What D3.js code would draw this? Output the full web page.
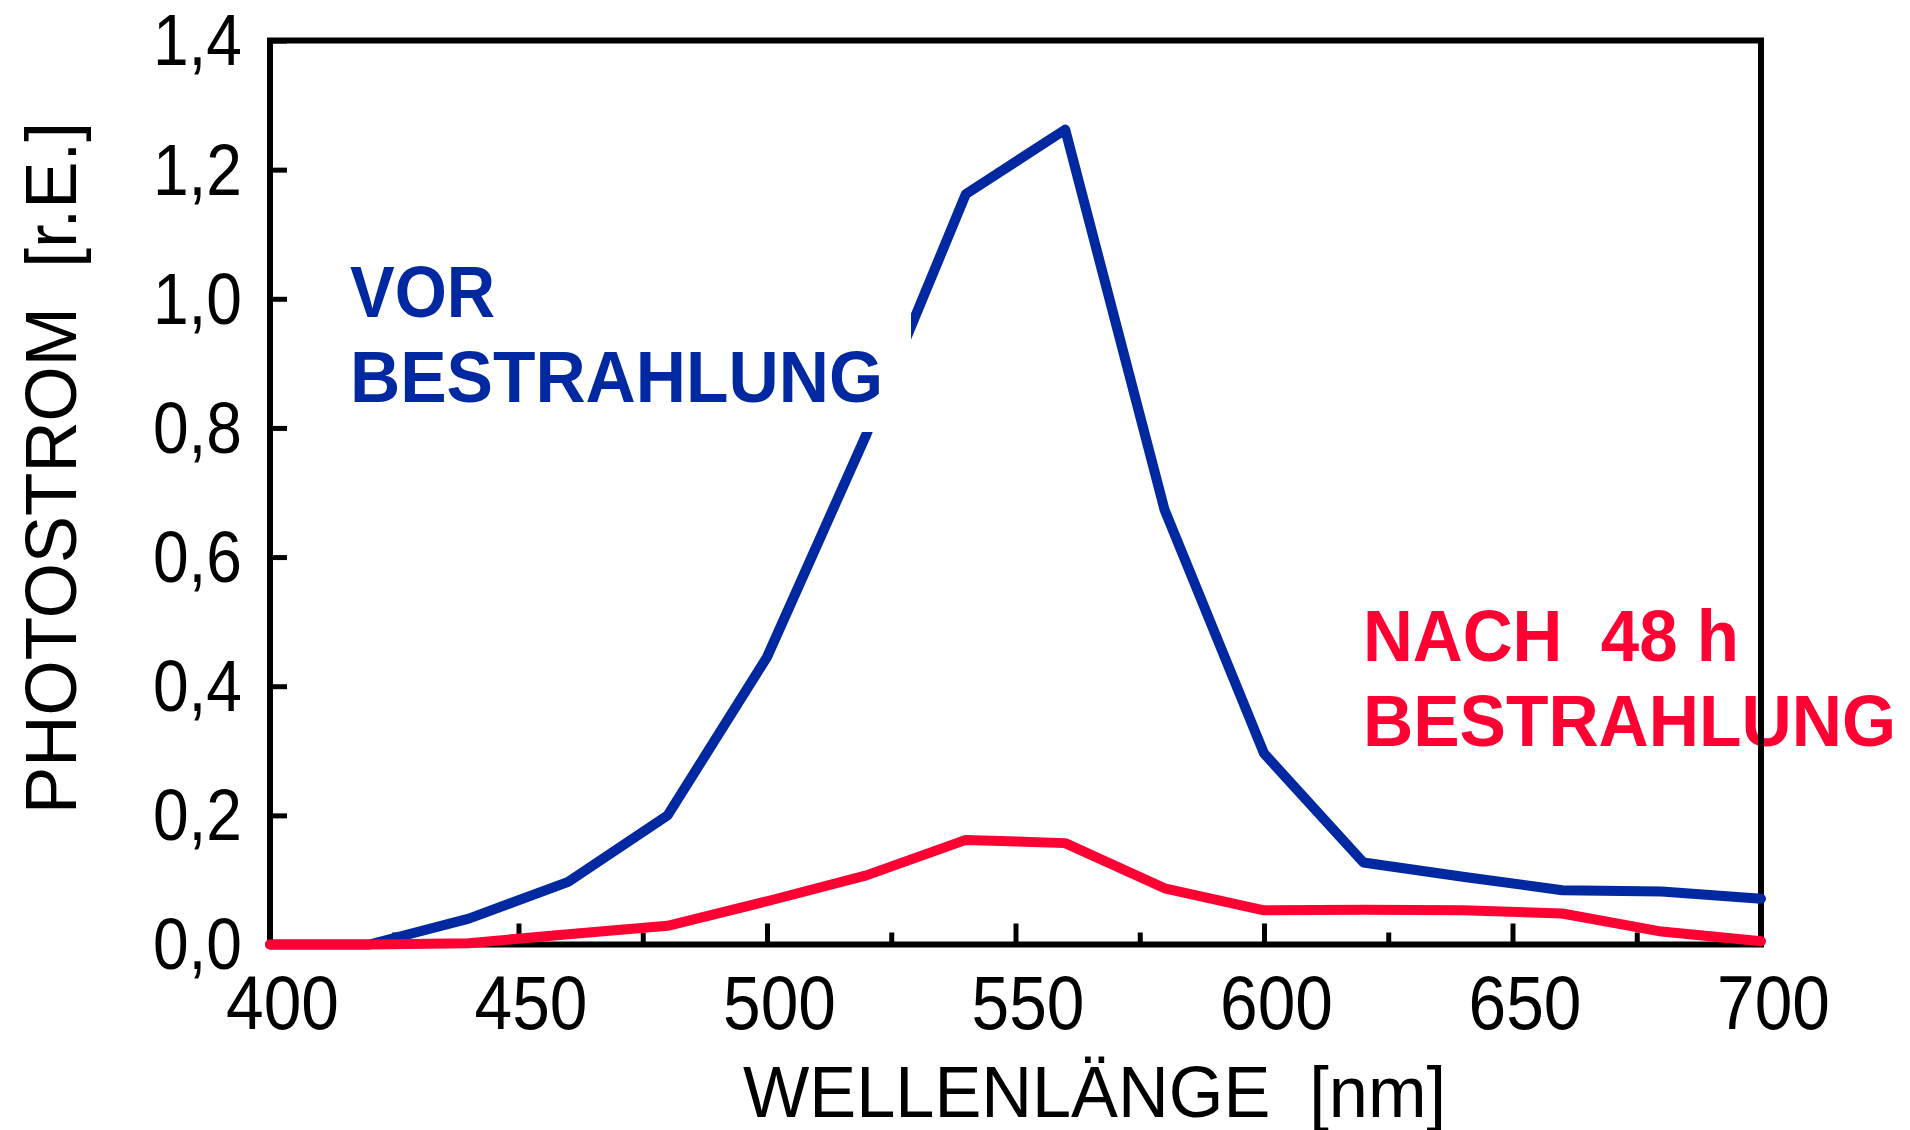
<!DOCTYPE html>
<html>
<head>
<meta charset="utf-8">
<script src="https://cdn.jsdelivr.net/npm/d3@7"></script>
<style>
  html, body { margin: 0; padding: 0; background: #fff; }
  svg { display: block; }
  text { font-family: "Liberation Sans", Arial, Helvetica, sans-serif; }
</style>
</head>
<body>
<svg id="chart" width="1910" height="1130"></svg>
<script>
// Wavelength grid (nm)
const wavelengths = [400, 420, 440, 460, 480, 500, 520, 540, 560, 580, 600, 620, 640, 660, 680, 700];
// Photocurrent before irradiation (relative units)
const vorBestrahlung = [0, 0, 0.04, 0.097, 0.20, 0.445, 0.79, 1.162, 1.262, 0.673, 0.296, 0.127, 0.105, 0.084, 0.082, 0.071];
// Photocurrent after 48 h irradiation (relative units)
const nach48h = [0, 0, 0.002, 0.016, 0.029, 0.067, 0.107, 0.162, 0.157, 0.087, 0.053, 0.054, 0.053, 0.048, 0.02, 0.005];

// Axis ticks and labels
const xMajorTicks = [400, 450, 500, 550, 600, 650, 700];
const xMinorTicks = [425, 475, 525, 575, 625, 675];
const yTicks = [0, 0.2, 0.4, 0.6, 0.8, 1.0, 1.2, 1.4];
const yTickLabels = ["0,0", "0,2", "0,4", "0,6", "0,8", "1,0", "1,2", "1,4"];

const BLUE = "#0028a0";
const RED = "#ff0033";

const svg = d3.select("#chart");
svg.append("rect").attr("width", 1910).attr("height", 1130).attr("fill", "#fff");

const plot = { left: 270, right: 1761, top: 40.5, bottom: 944.5 };

const x = d3.scaleLinear().domain([400, 700]).range([plot.left, plot.right]);
const y = d3.scaleLinear().domain([0, 1.4]).range([plot.bottom, plot.top]);

// Red annotation sits under the frame (frame line crosses it)
const redLabel = svg.append("g").attr("fill", RED).attr("font-weight", "bold").attr("font-size", 72);
redLabel.append("text").attr("x", 1363).attr("y", 661)
  .style("white-space", "pre")
  .attr("textLength", 376).attr("lengthAdjust", "spacingAndGlyphs")
  .text("NACH  48 h");
redLabel.append("text").attr("x", 1363).attr("y", 746)
  .attr("textLength", 533).attr("lengthAdjust", "spacingAndGlyphs")
  .text("BESTRAHLUNG");

// Frame
svg.append("rect")
  .attr("x", plot.left).attr("y", plot.top)
  .attr("width", plot.right - plot.left).attr("height", plot.bottom - plot.top)
  .attr("fill", "none").attr("stroke", "#000").attr("stroke-width", 6);

// Y axis (inward ticks)
const yAxis = d3.axisLeft(y)
  .tickValues(yTicks)
  .tickFormat((d, i) => yTickLabels[i])
  .tickSize(-17).tickSizeOuter(0).tickPadding(0);
const gy = svg.append("g").attr("transform", `translate(${plot.left},0)`).call(yAxis);
gy.select(".domain").remove();
gy.selectAll(".tick line").attr("stroke", "#000").attr("stroke-width", 5);
gy.selectAll(".tick text")
  .attr("x", 0).attr("dy", "0.34em")
  .attr("fill", "#000").attr("font-size", 72)
  .attr("font-family", "Liberation Sans, Arial, sans-serif")
  .attr("text-anchor", "end")
  .attr("transform", "translate(-28,0) scale(0.89,1)");

// X axis minor ticks
const xMinor = d3.axisBottom(x).tickValues(xMinorTicks).tickFormat("").tickSize(-12).tickSizeOuter(0);
const gxm = svg.append("g").attr("transform", `translate(0,${plot.bottom})`).call(xMinor);
gxm.select(".domain").remove();
gxm.selectAll(".tick line").attr("stroke", "#000").attr("stroke-width", 5);

// X axis major ticks with labels
const xMajor = d3.axisBottom(x).tickValues(xMajorTicks).tickFormat(d3.format("d")).tickSize(-21).tickSizeOuter(0).tickPadding(0);
const gx = svg.append("g").attr("transform", `translate(0,${plot.bottom})`).call(xMajor);
gx.select(".domain").remove();
gx.selectAll(".tick line").attr("stroke", "#000").attr("stroke-width", 5);
gx.selectAll(".tick text")
  .attr("y", 0).attr("dy", 0)
  .attr("fill", "#000").attr("font-size", 76)
  .attr("font-family", "Liberation Sans, Arial, sans-serif")
  .attr("text-anchor", "middle")
  .attr("transform", "translate(12,84) scale(0.89,1)");

// Axis titles
svg.append("text")
  .attr("x", 743).attr("y", 1117)
  .attr("font-size", 72).attr("fill", "#000")
  .style("white-space", "pre")
  .attr("textLength", 703).attr("lengthAdjust", "spacingAndGlyphs")
  .text("WELLENLÄNGE  [nm]");

svg.append("text")
  .attr("transform", "translate(76,814) rotate(-90)")
  .attr("x", 0).attr("y", 0)
  .attr("font-size", 72).attr("fill", "#000")
  .style("white-space", "pre")
  .attr("textLength", 692).attr("lengthAdjust", "spacingAndGlyphs")
  .text("PHOTOSTROM  [r.E.]");

// Curves
const line = d3.line().x((d, i) => x(wavelengths[i])).y(d => y(d));

svg.append("path").datum(vorBestrahlung)
  .attr("d", line).attr("fill", "none")
  .attr("stroke", BLUE).attr("stroke-width", 10)
  .attr("stroke-linejoin", "round").attr("stroke-linecap", "round");

svg.append("path").datum(nach48h)
  .attr("d", line).attr("fill", "none")
  .attr("stroke", RED).attr("stroke-width", 10)
  .attr("stroke-linejoin", "round").attr("stroke-linecap", "round");

// Blue annotation on a white backing box
svg.append("rect").attr("x", 322).attr("y", 237).attr("width", 589).attr("height", 195).attr("fill", "#fff");
const blueLabel = svg.append("g").attr("fill", BLUE).attr("font-weight", "bold").attr("font-size", 72);
blueLabel.append("text").attr("x", 350).attr("y", 317)
  .attr("textLength", 145).attr("lengthAdjust", "spacingAndGlyphs")
  .text("VOR");
blueLabel.append("text").attr("x", 350).attr("y", 402)
  .attr("textLength", 533).attr("lengthAdjust", "spacingAndGlyphs")
  .text("BESTRAHLUNG");
</script>
</body>
</html>
